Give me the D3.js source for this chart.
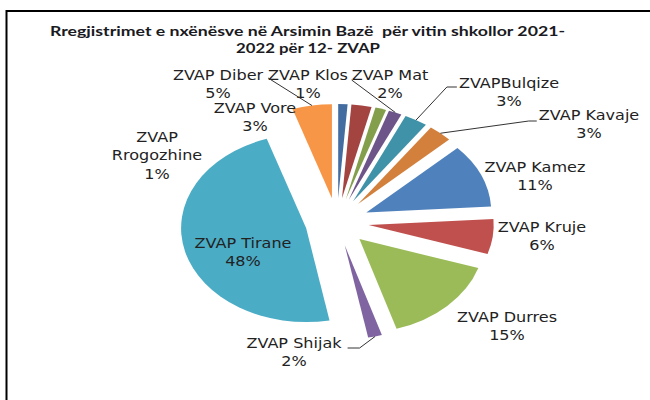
<!DOCTYPE html>
<html>
<head>
<meta charset="utf-8">
<script src="https://cdn.jsdelivr.net/npm/d3@7"></script>
<style>
  body { margin: 0; background: #fff; }
  svg { display: block; }
</style>
</head>
<body>
<svg id="chart" width="650" height="400"></svg>
<script>
// data, clockwise from 12 o'clock (share of students, %)
const names = ["ZVAP Klos", "ZVAP Vore", "ZVAP Rrogozhine", "ZVAP Mat", "ZVAPBulqize", "ZVAP Kavaje",
               "ZVAP Kamez", "ZVAP Kruje", "ZVAP Durres", "ZVAP Shijak", "ZVAP Tirane", "ZVAP Diber"];
const values = [1.2, 2.6, 1.4, 1.7, 3.0, 3.1, 11.0, 6.0, 15.2, 1.8, 47.9, 5.1];
const titleLines = ["Rregjistrimet e nxënësve në Arsimin Bazë  për vitin shkollor 2021-", "2022 për 12- ZVAP"];

// excel 2007 palette, first six points are a darker shade
const palette = ["#436da0", "#a34441", "#849f4c", "#6d5589", "#4092a8", "#d2803c",
                 "#4f81bd", "#c0504d", "#9bbb59", "#8064a2", "#4bacc6", "#f79646"];

// where excel put the labels (centre x, first baseline) and leader lines
const labelLayout = {
  "ZVAP Klos":       { x: 308, y: 80 },
  "ZVAP Vore":       { x: 255, y: 113 },
  "ZVAP Rrogozhine": { x: 157, y: 142, split: true },
  "ZVAP Mat":        { x: 390, y: 80, leader: { side: "left", dx: 0, dy: 0, tick: 0 } },
  "ZVAPBulqize":     { x: 509, y: 88, leader: { side: "left", dx: -2, dy: -1, tick: 10 } },
  "ZVAP Kavaje":     { x: 589, y: 120, leader: { side: "left", dx: -2, dy: 1, tick: 8 } },
  "ZVAP Kamez":      { x: 535, y: 172 },
  "ZVAP Kruje":      { x: 542, y: 232 },
  "ZVAP Durres":     { x: 507, y: 322 },
  "ZVAP Shijak":     { x: 294, y: 348, leader: { side: "right", dx: 6, dy: 0, tick: 12 } },
  "ZVAP Tirane":     { x: 243, y: 248 },
  "ZVAP Diber":      { x: 218, y: 80, leader: { side: "right", dx: 5, dy: -2, tick: 0 } }
};

const cx = 337, cy = 222, R = 94, explode = 24;
const sx = 1.33;       // the picture is stretched sideways
const textSx = 1.19;
const lineH = 18.5;

const data = names.map((n, i) => ({ name: n, value: values[i], color: palette[i] }));
const total = d3.sum(values);
const fmt = d3.format(".0%");

const svg = d3.select("#chart");

svg.append("rect")
  .attr("x", 6.5).attr("y", 11)
  .attr("width", 700).attr("height", 500)
  .attr("fill", "none").attr("stroke", "#000").attr("stroke-width", 2);

// title
svg.selectAll("text.title")
  .data(titleLines)
  .enter()
  .append("text")
  .attr("class", "title")
  .attr("x", (d, i) => i === 0 ? 50 : 236)
  .attr("y", (d, i) => i === 0 ? 36 : 53)
  .attr("textLength", (d, i) => i === 0 ? 515 : 144)
  .attr("lengthAdjust", "spacingAndGlyphs")
  .style("white-space", "pre")
  .attr("font-family", "Lato, 'Open Sans', sans-serif")
  .attr("font-weight", "bold")
  .attr("font-size", 13)
  .attr("fill", "#1a1a22")
  .text(d => d);

// pie
const pie = d3.pie().sort(null).value(d => d.value);
const arcs = pie(data);
const arc = d3.arc().innerRadius(0).outerRadius(R);
const midAngle = a => (a.startAngle + a.endAngle) / 2;

const pieG = svg.append("g").attr("transform", `translate(${cx},${cy}) scale(${sx},1)`);
pieG.selectAll("path")
  .data(arcs)
  .enter()
  .append("path")
  .attr("d", arc)
  .attr("fill", d => d.data.color)
  .attr("transform", d => {
    const m = midAngle(d);
    return `translate(${Math.sin(m) * explode},${-Math.cos(m) * explode})`;
  });

// labels
const labelG = svg.append("g")
  .attr("font-family", "'DejaVu Sans', Verdana, sans-serif")
  .attr("font-size", 13.5)
  .attr("fill", "#222");

const leaders = [];
arcs.forEach(a => {
  const lay = labelLayout[a.data.name];
  const pct = fmt(a.data.value / total);
  const lines = lay.split ? a.data.name.split(" ").concat([pct]) : [a.data.name, pct];

  const g = labelG.append("g").attr("transform", `translate(${lay.x},${lay.y}) scale(${textSx},1)`);
  let firstW = 0;
  lines.forEach((t, i) => {
    const txt = g.append("text")
      .attr("text-anchor", "middle")
      .attr("y", i * lineH)
      .text(t);
    if (i === 0) firstW = txt.node().getComputedTextLength() * textSx;
  });

  if (lay.leader) {
    const L = lay.leader;
    const m = midAngle(a);
    const tx = cx + Math.sin(m) * (explode + R) * sx;
    const ty = cy - Math.cos(m) * (explode + R);
    const edge = L.side === "left" ? lay.x - firstW / 2 : lay.x + firstW / 2;
    const sx0 = edge + L.dx, sy0 = lay.y + L.dy;
    const dir = L.side === "left" ? -1 : 1;
    const pts = [[sx0, sy0]];
    if (L.tick) pts.push([sx0 + dir * L.tick, sy0]);
    pts.push([tx, ty]);
    leaders.push(pts);
  }
});

svg.append("g")
  .selectAll("path")
  .data(leaders)
  .enter()
  .append("path")
  .attr("d", d3.line())
  .attr("fill", "none")
  .attr("stroke", "#333")
  .attr("stroke-width", 1);
</script>
</body>
</html>
